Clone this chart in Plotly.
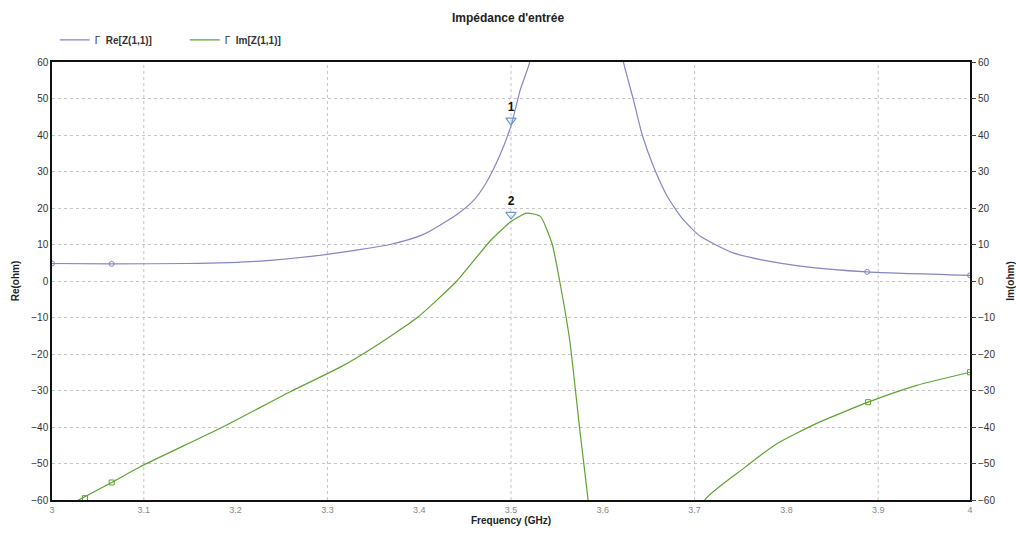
import plotly.graph_objects as go

# ---- data ----
freq_re = [3.0, 3.065, 3.147, 3.223, 3.3, 3.368, 3.404, 3.441, 3.459, 3.472, 3.488, 3.5, 3.51, 3.521,
           3.535, 3.57, 3.605, 3.622, 3.633, 3.643, 3.655, 3.67, 3.687, 3.706, 3.742, 3.779, 3.815,
           3.888, 4.0]
re_z = [4.8, 4.7, 4.8, 5.4, 7.3, 10.0, 12.7, 18.2, 22.0, 26.5, 34.5, 42.5, 52.3, 60.5,
        85, 140, 85, 60.5, 50, 40, 31.5, 23.3, 17, 12.3, 7.7, 5.5, 4.1,
        2.5, 1.55]

freq_im = [3.0, 3.029, 3.065, 3.096, 3.186, 3.259, 3.314, 3.35, 3.398, 3.441, 3.477, 3.5, 3.517,
           3.532, 3.545, 3.553, 3.564, 3.575, 3.584, 3.595, 3.65, 3.70, 3.711, 3.753, 3.79, 3.833,
           3.889, 3.942, 4.0]
im_z = [-64, -60, -55.2, -50.9, -40, -30.4, -23.6, -18.2, -10, 0, 10.9, 16.3, 18.6,
        17.7, 10, 0, -16.3, -40.9, -60, -85, -150, -72, -60, -51.4, -44.5, -39,
        -33.2, -28.6, -25]

re_mark_f = [3.0, 3.065, 3.888, 4.0]
re_mark_v = [4.8, 4.7, 2.5, 1.55]
im_mark_f = [3.036, 3.065, 3.889, 4.0]
im_mark_v = [-59.5, -55.2, -33.2, -25]

marker_f = [3.5, 3.5]
marker_v = [44.0, 18.2]
marker_lbl = ["<b>1</b>", "<b>2</b>"]

x_ticks = [3.0, 3.1, 3.2, 3.3, 3.4, 3.5, 3.6, 3.7, 3.8, 3.9, 4.0]
x_tick_text = ["3", "3.1", "3.2", "3.3", "3.4", "3.5", "3.6", "3.7", "3.8", "3.9", "4"]
y_ticks = [-60, -50, -40, -30, -20, -10, 0, 10, 20, 30, 40, 50, 60]

RE_COL = "#8585c8"
IM_COL = "#5ea332"
GRID = "#c4c4c4"
FONT = "Liberation Sans, Arial, sans-serif"

fig = go.Figure()
fig.add_trace(go.Scatter(x=freq_re, y=re_z, mode="lines", name="Γ  <b>Re[Z(1,1)]</b>",
                         line=dict(color=RE_COL, width=1.2, shape="spline", smoothing=0.6)))
fig.add_trace(go.Scatter(x=freq_im, y=im_z, mode="lines", name="Γ  <b>Im[Z(1,1)]</b>", yaxis="y2",
                         line=dict(color=IM_COL, width=1.2, shape="spline", smoothing=0.5)))
fig.add_trace(go.Scatter(x=re_mark_f, y=re_mark_v, mode="markers", showlegend=False,
                         marker=dict(symbol="circle-open", size=5, color=RE_COL, line=dict(width=1))))
fig.add_trace(go.Scatter(x=im_mark_f, y=im_mark_v, mode="markers", showlegend=False, yaxis="y2",
                         marker=dict(symbol="square-open", size=5, color=IM_COL, line=dict(width=1))))
fig.add_trace(go.Scatter(x=marker_f, y=marker_v, mode="markers+text", showlegend=False,
                         text=marker_lbl, textposition="top center",
                         textfont=dict(family=FONT, size=12, color="#111"),
                         marker=dict(symbol="triangle-down-open", size=9, color="#6a9ad8",
                                     line=dict(width=1.2))))

fig.update_layout(
    width=1016, height=539,
    margin=dict(l=52, r=46, t=62, b=39, autoexpand=False),
    paper_bgcolor="white", plot_bgcolor="white",
    font=dict(family=FONT, color="#333", size=10),
    title=dict(text="<b>Impédance d'entrée</b>", x=0.5, xanchor="center", y=0.975, yanchor="top",
               font=dict(family=FONT, size=12, color="#222")),
    showlegend=True,
    legend=dict(orientation="h", x=0.003, y=0.926, xanchor="left", yanchor="middle",
                yref="container", font=dict(family=FONT, size=10, color="#333"),
                bgcolor="rgba(0,0,0,0)", itemwidth=30, entrywidth=85),
    xaxis=dict(range=[3.0, 4.0], tickvals=x_ticks, ticktext=x_tick_text,
               tickfont=dict(size=9, color="#888"), automargin=False,
               showgrid=False, zeroline=False,
               showline=True, linecolor="#111", linewidth=1.5, mirror=True,
               ticks="", title=dict(text="<b>Frequency (GHz)</b>", standoff=2,
                                    font=dict(size=10, color="#222"))),
    yaxis=dict(range=[-60, 60], tickvals=y_ticks, showgrid=True, gridcolor=GRID,
               griddash="dot", gridwidth=1, zeroline=False, automargin=False,
               showline=True, linecolor="#111", linewidth=1.5, mirror=True,
               tickfont=dict(size=10, color="#333"),
               title=dict(text="<b>Re(ohm)</b>", standoff=10, font=dict(size=10, color="#222"))),
    yaxis2=dict(range=[-60, 60], tickvals=y_ticks, overlaying="y", side="right",
                showgrid=False, zeroline=False, showline=False, automargin=False,
                ticks="outside", ticklen=5, tickcolor="#444", tickwidth=1,
                tickfont=dict(size=10, color="#333"),
                title=dict(text="<b>Im(ohm)</b>", standoff=18, font=dict(size=10, color="#222"))),
)

# vertical dotted grid every 0.2 GHz (as in reference)
for xv in [3.1, 3.3, 3.5, 3.7, 3.9]:
    fig.add_vline(x=xv, line=dict(color=GRID, width=1, dash="dot"), layer="below")

fig.write_html("out.html")
